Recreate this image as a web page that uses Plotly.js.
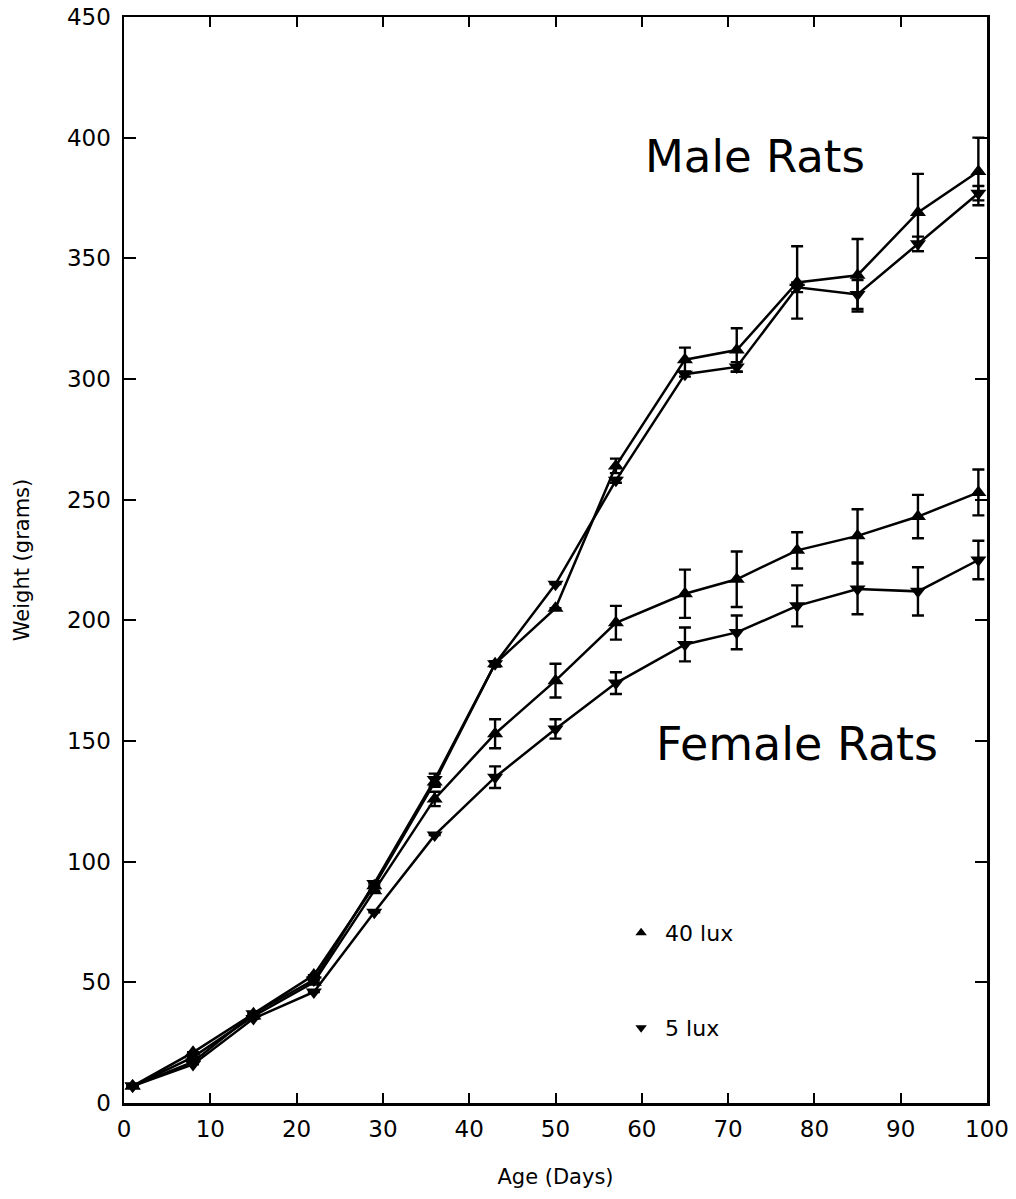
<!DOCTYPE html>
<html>
<head>
<meta charset="utf-8">
<script src="https://cdn.plot.ly/plotly-3.0.1.min.js"></script>
<style>html,body{margin:0;padding:0;background:#fff;}#chart{width:1016px;height:1199px;}</style>
</head>
<body>
<div id="chart"></div>
<script>
const ages = [1, 8, 15, 22, 29, 36, 43, 50, 57, 65, 71, 78, 85, 92, 99];

const male40 = [7, 21, 37, 53, 90, 133, 182, 205, 264, 308, 312, 340, 343, 369, 386];
const male40Err = [0, 0, 0, 0, 0, 2, 1, 0, 3, 5, 9, 15, 15, 16, 14];
const male5 = [7, 17, 37, 51, 91, 134, 182, 215, 258, 302, 305, 338, 335, 356, 377];
const male5Err = [0, 0, 0, 0, 0, 2.5, 1, 0, 1, 1, 2, 2, 6, 3, 3];
const female40 = [7, 19, 36, 50, 88, 126, 153, 175, 199, 211, 217, 229, 235, 243, 253];
const female40Err = [0, 0, 0, 0, 0, 3, 6, 7, 7, 10, 11.5, 7.5, 11, 9, 9.5];
const female5 = [7, 16, 35, 46, 79, 111, 135, 155, 174, 190, 195, 206, 213, 212, 225];
const female5Err = [0, 0, 0, 0, 0, 0, 4.5, 4, 4.5, 7, 7, 8.5, 10.5, 10, 8];

const xTicks = [0, 10, 20, 30, 40, 50, 60, 70, 80, 90, 100];
const yTicks = [0, 50, 100, 150, 200, 250, 300, 350, 400, 450];
const legendLabels = ['40 lux', '5 lux'];
const groupLabels = ['Male Rats', 'Female Rats'];

const FONT = 'DejaVu Sans, Verdana, sans-serif';

function series(y, err, symbol) {
  return {
    x: ages, y: y, type: 'scatter', mode: 'lines+markers', showlegend: false,
    line: {color: '#000', width: 2.5},
    marker: {symbol: symbol, size: 14, color: '#000'},
    error_y: {type: 'data', array: err, visible: true, color: '#000', thickness: 2.4, width: 6}
  };
}

const traces = [
  series(female5, female5Err, 'triangle-down'),
  series(female40, female40Err, 'triangle-up'),
  series(male5, male5Err, 'triangle-down'),
  series(male40, male40Err, 'triangle-up'),
  {x: [null], y: [null], type: 'scatter', mode: 'markers', name: legendLabels[0], legend: 'legend',
   marker: {symbol: 'triangle-up', size: 10, color: '#000'}},
  {x: [null], y: [null], type: 'scatter', mode: 'markers', name: legendLabels[1], legend: 'legend2',
   marker: {symbol: 'triangle-down', size: 10, color: '#000'}}
];

const axisCommon = {
  showgrid: false, zeroline: false, showline: true, linecolor: '#000', linewidth: 2.5,
  mirror: 'ticks', ticks: 'inside', tickcolor: '#000', tickwidth: 2,
  tickfont: {family: FONT, size: 23, color: '#000'}
};

const layout = {
  width: 1016, height: 1199,
  paper_bgcolor: '#fff', plot_bgcolor: '#fff',
  margin: {l: 124, r: 29, t: 17, b: 96},
  font: {family: FONT, color: '#000'},
  xaxis: Object.assign({}, axisCommon, {
    range: [0, 100], tickvals: xTicks, ticktext: xTicks.map(String), ticklen: 10, ticklabelstandoff: 4,
    title: {text: 'Age (Days)', font: {family: FONT, size: 21, color: '#000'}, standoff: 28}
  }),
  yaxis: Object.assign({}, axisCommon, {
    range: [0, 450], tickvals: yTicks, ticktext: yTicks.map(String), ticklen: 12, ticklabelstandoff: 6,
    title: {text: 'Weight (grams)', font: {family: FONT, size: 21, color: '#000'}, standoff: 32}
  }),
  legend: {x: 0.5714, y: 0.1565, xanchor: 'left', yanchor: 'middle', bgcolor: 'rgba(0,0,0,0)',
           font: {family: FONT, size: 22, color: '#000'}, itemsizing: 'trace', itemwidth: 38},
  legend2: {x: 0.5714, y: 0.069, xanchor: 'left', yanchor: 'middle', bgcolor: 'rgba(0,0,0,0)',
           font: {family: FONT, size: 22, color: '#000'}, itemsizing: 'trace', itemwidth: 38},
  annotations: [
    {x: 73.1, y: 392, xref: 'x', yref: 'y', text: groupLabels[0], showarrow: false,
     font: {family: FONT, size: 45, color: '#000'}},
    {x: 78.0, y: 148.6, xref: 'x', yref: 'y', text: groupLabels[1], showarrow: false,
     font: {family: FONT, size: 46, color: '#000'}}
  ]
};

Plotly.newPlot('chart', traces, layout, {displayModeBar: false, staticPlot: true});
</script>
</body>
</html>
